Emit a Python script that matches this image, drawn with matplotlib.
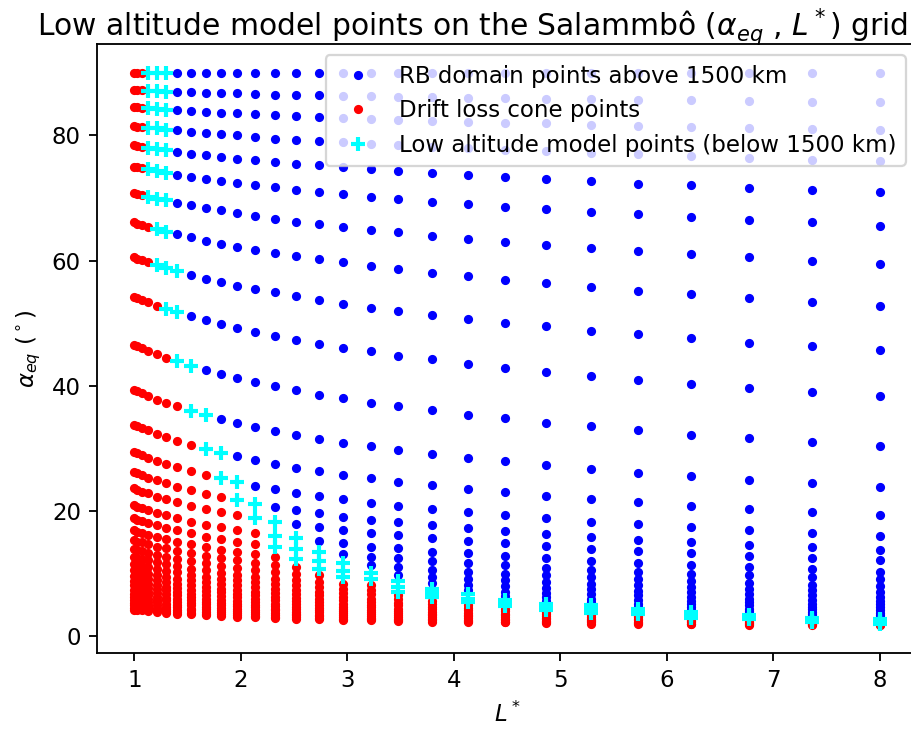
import matplotlib
matplotlib.use("Agg")
import matplotlib.pyplot as plt

# L* columns of the grid
L_cols = [1.0, 1.03, 1.07, 1.13, 1.21, 1.30, 1.40, 1.53, 1.67, 1.81, 1.96, 2.13, 2.32,
          2.52, 2.73, 2.96, 3.22, 3.48, 3.80, 4.13, 4.48, 4.87, 5.29, 5.73, 6.23,
          6.77, 7.36, 8.0]

# alpha_eq (deg) of each grid row, one value per L* column
alpha_rows = [
    [90.0] * 28,
    [87.2, 87.2, 87.2, 87.1, 87.1, 87.0, 87.0, 86.9, 86.8, 86.8, 86.7, 86.6, 86.5, 86.5,
     86.4, 86.3, 86.3, 86.2, 86.1, 86.0, 85.9, 85.8, 85.8, 85.7, 85.6, 85.5, 85.4, 85.3],
    [84.5, 84.5, 84.4, 84.3, 84.2, 84.1, 84.0, 83.9, 83.8, 83.6, 83.5, 83.4, 83.2, 83.1,
     82.9, 82.8, 82.6, 82.5, 82.3, 82.2, 82.0, 81.9, 81.7, 81.5, 81.3, 81.2, 81.0, 80.8],
    [81.5, 81.4, 81.4, 81.2, 81.1, 80.9, 80.8, 80.6, 80.4, 80.2, 80.0, 79.8, 79.5, 79.3,
     79.1, 78.9, 78.7, 78.5, 78.2, 78.0, 77.7, 77.5, 77.2, 77.0, 76.7, 76.4, 76.1, 75.9],
    [78.4, 78.3, 78.2, 78.0, 77.8, 77.6, 77.4, 77.1, 76.9, 76.6, 76.3, 76.1, 75.8, 75.5,
     75.2, 74.9, 74.6, 74.3, 74.0, 73.7, 73.3, 73.0, 72.7, 72.3, 72.0, 71.6, 71.3, 70.9],
    [75.0, 74.9, 74.8, 74.6, 74.3, 74.0, 73.7, 73.4, 73.0, 72.7, 72.4, 72.0, 71.7, 71.3,
     71.0, 70.6, 70.2, 69.8, 69.4, 69.0, 68.6, 68.2, 67.8, 67.4, 67.0, 66.5, 66.1, 65.6],
    [70.8, 70.7, 70.5, 70.2, 69.9, 69.6, 69.2, 68.8, 68.4, 68.0, 67.6, 67.1, 66.7, 66.2,
     65.8, 65.4, 64.9, 64.5, 64.0, 63.5, 63.0, 62.5, 62.0, 61.5, 61.0, 60.5, 59.9, 59.4],
    [66.1, 65.9, 65.7, 65.4, 65.1, 64.6, 64.2, 63.7, 63.2, 62.7, 62.2, 61.7, 61.2, 60.7,
     60.2, 59.7, 59.1, 58.6, 58.0, 57.5, 56.9, 56.4, 55.8, 55.2, 54.6, 54.0, 53.4, 52.8],
    [60.5, 60.3, 60.1, 59.7, 59.3, 58.8, 58.3, 57.7, 57.1, 56.6, 56.0, 55.5, 54.9, 54.3,
     53.7, 53.1, 52.5, 52.0, 51.3, 50.7, 50.1, 49.5, 48.8, 48.2, 47.6, 46.9, 46.3, 45.7],
    [54.2, 54.0, 53.7, 53.3, 52.8, 52.3, 51.8, 51.1, 50.5, 49.9, 49.3, 48.6, 48.0, 47.3,
     46.7, 46.1, 45.5, 44.8, 44.2, 43.5, 42.9, 42.2, 41.6, 40.9, 40.3, 39.6, 39.0, 38.3],
    [46.5, 46.3, 46.0, 45.6, 45.0, 44.5, 43.9, 43.2, 42.5, 41.9, 41.2, 40.6, 39.9, 39.3,
     38.6, 38.0, 37.3, 36.7, 36.1, 35.4, 34.8, 34.1, 33.5, 32.9, 32.2, 31.6, 31.0, 30.4],
    [39.3, 39.1, 38.8, 38.3, 37.8, 37.2, 36.7, 36.0, 35.3, 34.7, 34.0, 33.4, 32.8, 32.1,
     31.5, 30.9, 30.3, 29.7, 29.1, 28.4, 27.9, 27.3, 26.7, 26.1, 25.5, 24.9, 24.4, 23.8],
    [33.8, 33.6, 33.3, 32.9, 32.3, 31.8, 31.2, 30.6, 29.9, 29.3, 28.7, 28.1, 27.5, 26.9,
     26.4, 25.8, 25.2, 24.7, 24.1, 23.5, 23.0, 22.4, 21.9, 21.4, 20.8, 20.3, 19.8, 19.3],
    [29.4, 29.2, 28.9, 28.5, 28.0, 27.5, 27.0, 26.3, 25.7, 25.2, 24.6, 24.0, 23.5, 22.9,
     22.4, 21.9, 21.3, 20.8, 20.3, 19.8, 19.3, 18.8, 18.3, 17.9, 17.4, 16.9, 16.5, 16.0],
    [26.2, 26.0, 25.7, 25.3, 24.9, 24.4, 23.9, 23.3, 22.7, 22.2, 21.7, 21.1, 20.6, 20.1,
     19.6, 19.1, 18.6, 18.2, 17.7, 17.2, 16.8, 16.3, 15.9, 15.4, 15.0, 14.6, 14.2, 13.8],
    [23.6, 23.4, 23.1, 22.8, 22.3, 21.9, 21.4, 20.8, 20.3, 19.8, 19.3, 18.8, 18.3, 17.9,
     17.4, 17.0, 16.5, 16.1, 15.6, 15.2, 14.8, 14.4, 13.9, 13.6, 13.2, 12.8, 12.4, 12.1],
    [20.9, 20.7, 20.5, 20.1, 19.7, 19.3, 18.9, 18.3, 17.8, 17.4, 16.9, 16.5, 16.0, 15.6,
     15.2, 14.8, 14.3, 14.0, 13.5, 13.2, 12.8, 12.4, 12.0, 11.7, 11.3, 11.0, 10.7, 10.3],
    [18.8, 18.6, 18.4, 18.1, 17.7, 17.3, 16.9, 16.4, 15.9, 15.5, 15.1, 14.7, 14.3, 13.9,
     13.5, 13.1, 12.7, 12.4, 12.0, 11.6, 11.3, 10.9, 10.6, 10.3, 10.0, 9.7, 9.4, 9.1],
    [16.9, 16.7, 16.5, 16.2, 15.9, 15.5, 15.1, 14.7, 14.2, 13.8, 13.5, 13.1, 12.7, 12.3,
     12.0, 11.6, 11.3, 11.0, 10.6, 10.3, 10.0, 9.7, 9.4, 9.1, 8.8, 8.5, 8.2, 8.0],
    [15.3, 15.1, 15.0, 14.7, 14.3, 14.0, 13.6, 13.2, 12.8, 12.5, 12.1, 11.7, 11.4, 11.0,
     10.7, 10.4, 10.1, 9.8, 9.5, 9.2, 8.9, 8.6, 8.3, 8.1, 7.8, 7.6, 7.3, 7.1],
    [13.9, 13.8, 13.6, 13.3, 13.0, 12.7, 12.3, 12.0, 11.6, 11.2, 10.9, 10.6, 10.3, 9.9,
     9.7, 9.4, 9.1, 8.8, 8.5, 8.2, 8.0, 7.7, 7.5, 7.2, 7.0, 6.8, 6.5, 6.3],
    [12.6, 12.5, 12.3, 12.1, 11.8, 11.5, 11.2, 10.8, 10.5, 10.1, 9.8, 9.5, 9.2, 8.9,
     8.7, 8.4, 8.1, 7.9, 7.6, 7.4, 7.1, 6.9, 6.7, 6.5, 6.2, 6.0, 5.8, 5.6],
    [11.5, 11.4, 11.2, 11.0, 10.7, 10.4, 10.2, 9.8, 9.5, 9.2, 8.9, 8.7, 8.4, 8.1,
     7.9, 7.6, 7.4, 7.1, 6.9, 6.7, 6.4, 6.2, 6.0, 5.8, 5.6, 5.4, 5.2, 5.1],
    [10.5, 10.4, 10.2, 10.0, 9.8, 9.5, 9.2, 8.9, 8.6, 8.4, 8.1, 7.9, 7.6, 7.3,
     7.1, 6.9, 6.7, 6.5, 6.2, 6.0, 5.8, 5.6, 5.4, 5.2, 5.1, 4.9, 4.7, 4.6],
    [9.6, 9.5, 9.4, 9.2, 8.9, 8.7, 8.4, 8.1, 7.9, 7.6, 7.4, 7.1, 6.9, 6.7,
     6.5, 6.3, 6.0, 5.9, 5.6, 5.4, 5.3, 5.1, 4.9, 4.7, 4.6, 4.4, 4.3, 4.1],
    [8.8, 8.7, 8.6, 8.4, 8.2, 7.9, 7.7, 7.4, 7.2, 7.0, 6.7, 6.5, 6.3, 6.1,
     5.9, 5.7, 5.5, 5.3, 5.1, 5.0, 4.8, 4.6, 4.5, 4.3, 4.2, 4.0, 3.9, 3.7],
    [8.1, 8.0, 7.9, 7.7, 7.5, 7.3, 7.1, 6.8, 6.6, 6.4, 6.2, 6.0, 5.8, 5.6,
     5.4, 5.2, 5.0, 4.9, 4.7, 4.5, 4.4, 4.2, 4.1, 3.9, 3.8, 3.7, 3.5, 3.4],
    [7.4, 7.3, 7.2, 7.0, 6.9, 6.7, 6.5, 6.2, 6.0, 5.8, 5.6, 5.4, 5.2, 5.1,
     4.9, 4.7, 4.6, 4.4, 4.3, 4.1, 4.0, 3.8, 3.7, 3.6, 3.4, 3.3, 3.2, 3.1],
    [6.8, 6.7, 6.6, 6.5, 6.3, 6.1, 5.9, 5.7, 5.5, 5.3, 5.2, 5.0, 4.8, 4.6,
     4.5, 4.3, 4.2, 4.0, 3.9, 3.7, 3.6, 3.5, 3.4, 3.2, 3.1, 3.0, 2.9, 2.8],
    [6.3, 6.2, 6.1, 6.0, 5.8, 5.7, 5.5, 5.3, 5.1, 4.9, 4.8, 4.6, 4.4, 4.3,
     4.1, 4.0, 3.8, 3.7, 3.6, 3.4, 3.3, 3.2, 3.1, 3.0, 2.9, 2.8, 2.7, 2.6],
    [5.8, 5.7, 5.6, 5.5, 5.4, 5.2, 5.0, 4.9, 4.7, 4.5, 4.4, 4.2, 4.1, 3.9,
     3.8, 3.7, 3.5, 3.4, 3.3, 3.2, 3.0, 2.9, 2.8, 2.7, 2.6, 2.5, 2.4, 2.3],
    [5.3, 5.2, 5.2, 5.0, 4.9, 4.7, 4.6, 4.4, 4.3, 4.1, 4.0, 3.8, 3.7, 3.6,
     3.4, 3.3, 3.2, 3.1, 3.0, 2.9, 2.8, 2.7, 2.6, 2.5, 2.4, 2.3, 2.2, 2.1],
    [4.9, 4.8, 4.8, 4.7, 4.5, 4.4, 4.2, 4.1, 3.9, 3.8, 3.7, 3.5, 3.4, 3.3,
     3.2, 3.1, 2.9, 2.8, 2.7, 2.6, 2.5, 2.4, 2.4, 2.3, 2.2, 2.1, 2.0, 2.0],
    [4.5, 4.4, 4.4, 4.3, 4.1, 4.0, 3.9, 3.7, 3.6, 3.5, 3.4, 3.2, 3.1, 3.0,
     2.9, 2.8, 2.7, 2.6, 2.5, 2.4, 2.3, 2.2, 2.2, 2.1, 2.0, 1.9, 1.9, 1.8],
    [4.2, 4.1, 4.1, 4.0, 3.9, 3.7, 3.6, 3.5, 3.4, 3.2, 3.1, 3.0, 2.9, 2.8,
     2.7, 2.6, 2.5, 2.4, 2.3, 2.2, 2.2, 2.1, 2.0, 1.9, 1.9, 1.8, 1.7, 1.7],
]

# per L* column: highest alpha_eq that is in the drift loss cone / below 1500 km
red_max = [91, 91, 91, 67, 56, 48, 40, 34, 29.5, 25, 20, 17.5, 14, 11.9, 10.5, 9.2,
           8.1, 6.9, 6.0, 5.3, 4.7, 3.9, 3.5, 3.2, 2.7, 2.5, 2.1, 1.9]
cyan_max = [91, 91, 91, 91, 91, 91, 61, 46, 38, 32, 27, 22, 19, 16.5, 14, 12.5, 10.6,
            9.2, 8.0, 7.0, 6.2, 5.5, 5.0, 4.6, 3.9, 3.6, 3.0, 2.8]

bx, by, rx, ry, cx, cy = [], [], [], [], [], []
for row in alpha_rows:
    for j, a in enumerate(row):
        if a <= red_max[j]:
            rx.append(L_cols[j]); ry.append(a)
        elif a <= cyan_max[j]:
            cx.append(L_cols[j]); cy.append(a)
        else:
            bx.append(L_cols[j]); by.append(a)

fig = plt.figure(figsize=(911 / 165, 731 / 165), dpi=165)
ax = fig.add_axes([97 / 911, 1 - 653 / 731, 820 / 911, 609 / 731])
ax.plot(bx, by, 'b.', label='RB domain points above 1500 km')
ax.plot(rx, ry, 'r.', label='Drift loss cone points')
ax.plot(cx, cy, '+', color='cyan', mew=1.8, label='Low altitude model points (below 1500 km)')
ax.set_xlim(0.65, 8.35)
ax.set_ylim(-2.7, 94.6)
ax.set_xlabel('$L^*$')
ax.set_ylabel(r'$\alpha_{eq}$ ($^\circ$)')
ax.legend(loc='upper right')
fig.text(473 / 911, 1 - 27 / 731,
         r'Low altitude model points on the Salammbô ($\alpha_{eq}$ , $L^*$) grid',
         ha='center', va='center', fontsize=13)
fig.savefig('out.png', dpi=165)
